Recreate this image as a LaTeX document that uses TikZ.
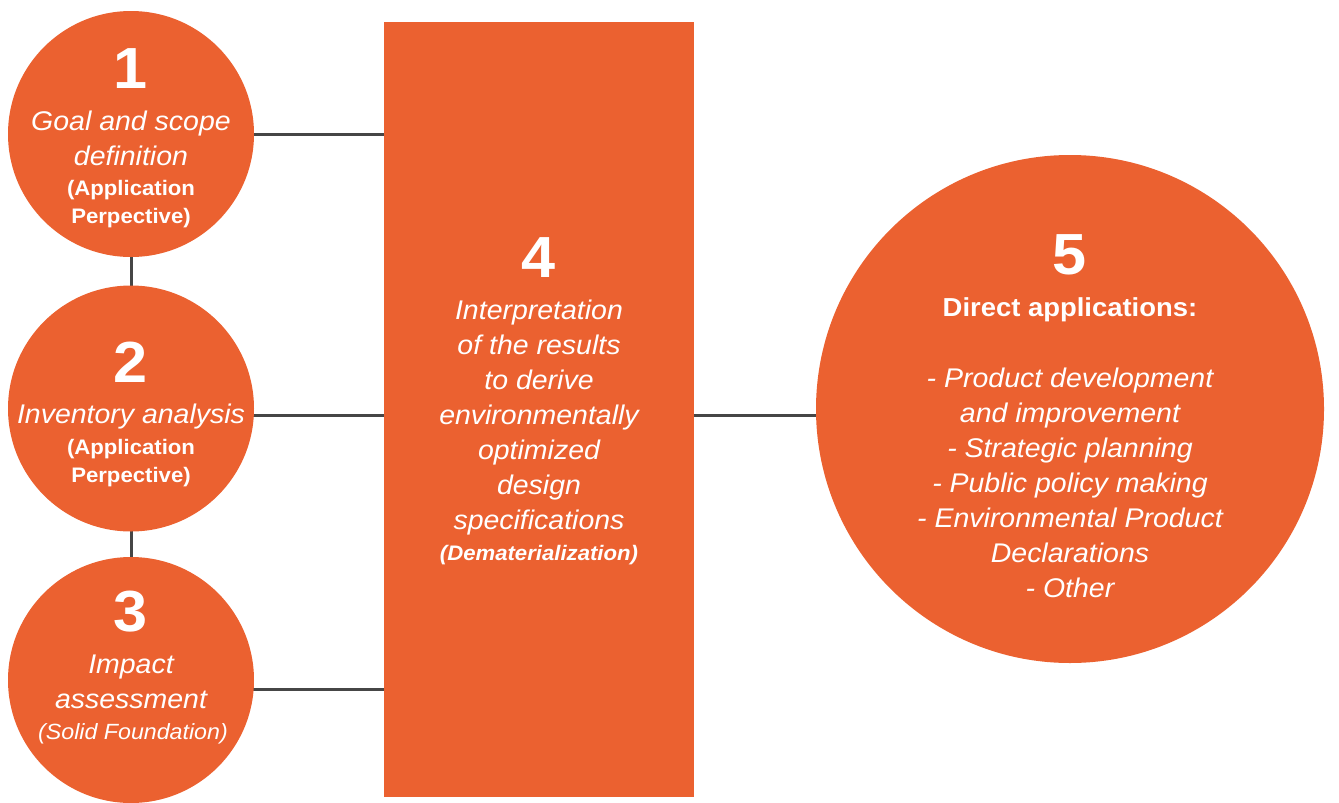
\documentclass[tikz,border=0pt]{standalone}
\usepackage{fontspec}
\setmainfont{Liberation Sans}[FakeStretch=1.055]
\usetikzlibrary{backgrounds,calc}
\definecolor{lcaorange}{RGB}{235,97,48}
\definecolor{linkgray}{RGB}{70,70,70}
\tikzset{
  stage/.style={circle, fill=lcaorange, inner sep=0pt},
  block/.style={rectangle, fill=lcaorange, inner sep=0pt},
  digit/.style={text=white, anchor=base, inner sep=0pt, font=\fontsize{58}{58}\selectfont\bfseries},
  % multi-line texts are placed by the baseline of their last line
  body/.style={text=white, align=center, anchor=base, inner sep=0pt, font=\fontsize{27}{35}\selectfont\itshape},
  note/.style={text=white, align=center, anchor=base, inner sep=0pt, font=\fontsize{21}{28}\selectfont\bfseries},
  link/.style={draw=linkgray, line width=3pt},
}
\begin{document}
\begin{tikzpicture}[x=1pt, y=-1pt]
  \useasboundingbox (0,0) rectangle (1339,803);

  % shapes
  \node[stage, minimum size=246pt] (c1) at (131,134) {};
  \node[stage, minimum size=246pt] (c2) at (131,408.5) {};
  \node[stage, minimum size=246pt] (c3) at (131,680) {};
  \node[block, minimum width=310pt, minimum height=775pt] (r4) at (539,409.5) {};
  \node[stage, minimum size=508pt] (c5) at (1070,409) {};

  % connectors behind the shapes
  \begin{scope}[on background layer]
    \draw[link] (c1.center) -- (c2.center) -- (c3.center);
    \draw[link] (c1.center) -- (c1.center -| r4.west);
    \draw[link] ($(c2.center)+(0,6.5)$) coordinate (l2) -- (l2 -| r4.west);
    \draw[link] ($(c3.center)+(0,9)$) coordinate (l3) -- (l3 -| r4.west);
    \draw[link] ($(r4.center)+(0,5.5)$) coordinate (l5) -- (l5 -| c5.center);
  \end{scope}

  % stage 1
  \node[digit] (d1) at (131,88) {1};
  \node[body] (b1) at (131,165) {Goal and scope\\definition};
  \node[note] (n1) at (131,223) {(Application\\Perpective)};

  % stage 2
  \node[digit] (d2) at (131,382) {2};
  \node[body] (b2) at (131,423) {Inventory analysis};
  \node[note] (n2) at (131,482) {(Application\\Perpective)};

  % stage 3
  \node[digit] (d3) at (131,631) {3};
  \node[body] (b3) at (131,708) {Impact\\assessment};
  \node[body, font=\fontsize{22}{28}\selectfont\itshape] (n3) at (133,739) {(Solid Foundation)};

  % stage 4
  \node[digit] (d4) at (539,277) {4};
  \node[body] (b4) at (539,529) {Interpretation\\of the results\\to derive\\environmentally\\optimized\\design\\specifications};
  \node[note, font=\fontsize{21}{28}\selectfont\bfseries\itshape] (n4) at (539,560) {(Dematerialization)};

  % stage 5
  \node[digit] (d5) at (1070,274) {5};
  \node[note, font=\fontsize{26}{34}\selectfont\bfseries] (h5) at (1070,316) {Direct applications:};
  \node[body] (b5) at (1070,597) {- Product development\\and improvement\\- Strategic planning\\- Public policy making\\- Environmental Product\\Declarations\\- Other};
\end{tikzpicture}
\end{document}
